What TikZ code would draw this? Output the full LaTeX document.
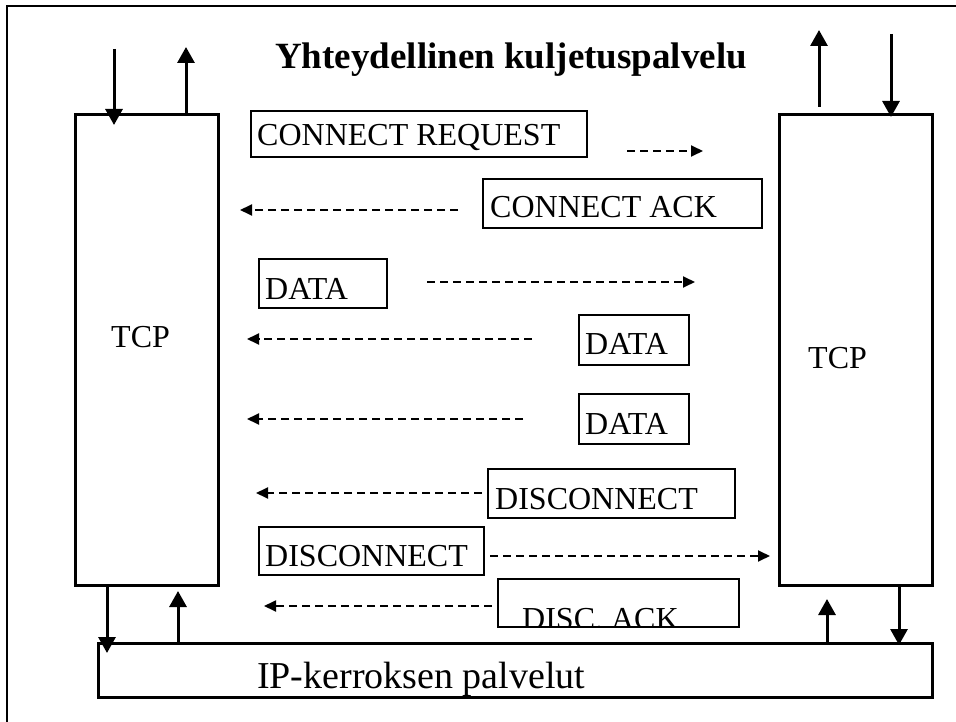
\documentclass[tikz,border=0pt]{standalone}
\usepackage{fontspec}
\setmainfont{Liberation Serif}
\usetikzlibrary{arrows.meta}
\begin{document}
\begin{tikzpicture}[x=1pt,y=-1pt,
  layerbox/.style={draw, line width=3pt, inner sep=0pt, outer sep=0pt, anchor=north west},
  msgbox/.style={draw, line width=1.8pt, inner sep=0pt, outer sep=0pt, anchor=north west},
  lbl/.style={inner sep=0pt, anchor=base west, font=\fontsize{32}{38}\selectfont},
  svc/.style={line width=3pt, -{Triangle[length=16pt,width=17pt]}},
  msg/.style={line width=1.8pt, dash pattern=on 8pt off 5pt, -{Triangle[length=12pt,width=11pt]}}]
\useasboundingbox (0,0) rectangle (956,722);

% frame
\draw[line width=2pt] (7,722) -- (7,6) -- (956,6);

% title
\node[inner sep=0pt, anchor=base west, font=\fontsize{37}{44}\selectfont\bfseries] (title) at (275,69) {Yhteydellinen kuljetuspalvelu};

% protocol entities and the IP layer
\node[layerbox, minimum width=143pt, minimum height=470pt] (ltcp) at (75,115) {};
\node[layerbox, minimum width=153pt, minimum height=470pt] (rtcp) at (779,115) {};
\node[layerbox, minimum width=834pt, minimum height=54pt] (ip) at (98,643) {};
\node[lbl] (ltcpt) at (111,347) {TCP};
\node[lbl] (rtcpt) at (808,368) {TCP};
\node[lbl, font=\fontsize{38}{44}\selectfont] (ipt) at (257,688) {IP-kerroksen palvelut};

% service access arrows
\coordinate (a1s) at (114,49);  \coordinate (a1e) at (114,125);
\coordinate (a2s) at (186,115); \coordinate (a2e) at (186,47);
\coordinate (a3s) at (819,107); \coordinate (a3e) at (819,30);
\coordinate (a4s) at (891,34);  \coordinate (a4e) at (891,117);
\coordinate (b1s) at (107,585); \coordinate (b1e) at (107,653);
\coordinate (b2s) at (178,643); \coordinate (b2e) at (178,591);
\coordinate (b3s) at (827,643); \coordinate (b3e) at (827,599);
\coordinate (b4s) at (899,585); \coordinate (b4e) at (899,645);
\foreach \p in {a1,a2,a3,a4,b1,b2,b3,b4}
  \draw[svc] (\p s) -- (\p e);

% segments
\node[lbl] (m1t) at (257,146) {CONNECT REQUEST};
\node[msgbox, minimum width=336pt, minimum height=46pt] (m1) at (251,111) {};
\node[lbl] (m2t) at (490,218) {CONNECT ACK};
\node[msgbox, minimum width=279pt, minimum height=49pt] (m2) at (483,179) {};
\node[lbl] (m3t) at (265,299) {DATA};
\node[msgbox, minimum width=128pt, minimum height=49pt] (m3) at (259,259) {};
\node[lbl] (m4t) at (585,354) {DATA};
\node[msgbox, minimum width=110pt, minimum height=50pt] (m4) at (579,315) {};
\node[lbl] (m5t) at (585,434) {DATA};
\node[msgbox, minimum width=110pt, minimum height=50pt] (m5) at (579,394) {};
\node[lbl] (m6t) at (495,509) {DISCONNECT};
\node[msgbox, minimum width=247pt, minimum height=49pt] (m6) at (488,469) {};
\node[lbl] (m7t) at (265,566) {DISCONNECT};
\node[msgbox, minimum width=225pt, minimum height=48pt] (m7) at (259,527) {};
\begin{scope}
  \clip (498,579) rectangle (739,626);
  \node[lbl] (m8t) at (522,629) {DISC. ACK};
\end{scope}
\node[msgbox, minimum width=241pt, minimum height=48pt] (m8) at (498,579) {};

% segment direction arrows
\coordinate (d1s) at (627,151); \coordinate (d1e) at (703,151);
\coordinate (d2s) at (458,210); \coordinate (d2e) at (240,210);
\coordinate (d3s) at (427,282); \coordinate (d3e) at (695,282);
\coordinate (d4s) at (532,339); \coordinate (d4e) at (247,339);
\coordinate (d5s) at (523,419); \coordinate (d5e) at (247,419);
\coordinate (d6s) at (482,493); \coordinate (d6e) at (256,493);
\coordinate (d7s) at (490,556); \coordinate (d7e) at (770,556);
\coordinate (d8s) at (492,606); \coordinate (d8e) at (264,606);
\foreach \p in {d1,d2,d3,d4,d5,d6,d7,d8}
  \draw[msg] (\p s) -- (\p e);
\end{tikzpicture}
\end{document}
